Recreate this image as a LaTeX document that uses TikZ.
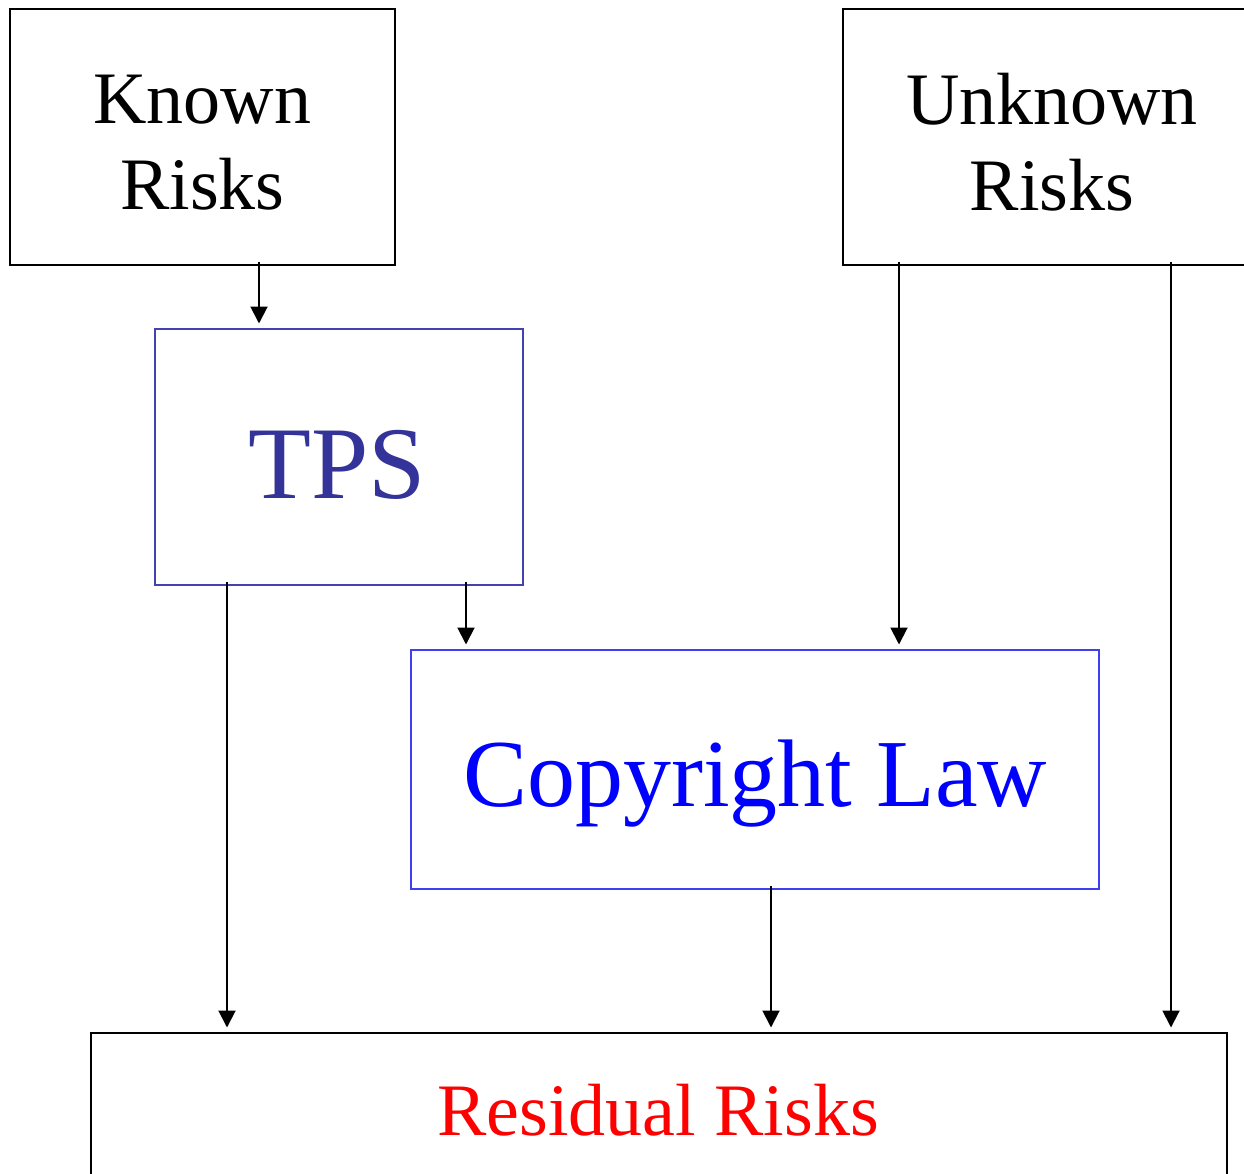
\documentclass[tikz,border=0pt]{standalone}
\usepackage{fontspec}
\setmainfont{Liberation Serif}
\usetikzlibrary{arrows.meta}
\definecolor{tpsblue}{HTML}{333399}
\definecolor{tpsframe}{HTML}{4343B0}
\definecolor{lawframe}{HTML}{3F3FF0}
\begin{document}
\begin{tikzpicture}[x=1pt,y=1pt,
  box/.style={draw, line width=2pt, inner sep=0pt},
  arr/.style={line width=2pt, -{Triangle[length=17pt,width=17pt]}, shorten >=0.5pt},
  bigtext/.style={font=\fontsize{74}{86}\selectfont, align=center, inner sep=0pt}]
\useasboundingbox (0,0) rectangle (1244,-1174);
\begin{scope}
\clip (0,0) rectangle (1244,-1174);
% source boxes
\node[box, minimum width=385pt, minimum height=256pt] (known) at (202.5,-137) {};
\node[box, minimum width=418pt, minimum height=256pt] (unknown) at (1052,-137) {};
% protection layers
\node[box, draw=tpsframe, minimum width=368pt, minimum height=256pt] (tps) at (339,-457) {};
\node[box, draw=lawframe, minimum width=688pt, minimum height=239pt] (law) at (755,-769.5) {};
% outcome
\node[box, minimum width=1136pt, minimum height=154pt] (resid) at (659,-1110) {};
\end{scope}
% box captions
\node[bigtext] (knowntxt) at ([yshift=-6pt]known.center) {Known\\Risks};
\node[bigtext] (unknowntxt) at ([yshift=-5pt]unknown.center) {Unknown\\Risks};
\node[inner sep=0pt, text=tpsblue, font=\fontsize{103}{120}\selectfont] (tpstxt) at ([xshift=-2pt,yshift=-8pt]tps.center) {TPS};
\node[inner sep=0pt, text=blue, font=\fontsize{96}{110}\selectfont] (lawtxt) at ([yshift=-14pt]law.center) {Copyright Law};
\node[bigtext, text=red] (residtxt) at ([xshift=-1pt]resid.center) {Residual Risks};
% connectors
\draw[arr] ([xshift=56.5pt,yshift=4pt]known.south) -- ([xshift=56.5pt,yshift=4pt]known.south |- tps.north);
\draw[arr] ([xshift=127pt,yshift=4pt]tps.south) -- ([xshift=127pt,yshift=4pt]tps.south |- law.north);
\draw[arr] ([xshift=-112pt,yshift=4pt]tps.south) -- ([xshift=-112pt,yshift=4pt]tps.south |- resid.north);
\draw[arr] ([xshift=-153pt,yshift=4pt]unknown.south) -- ([xshift=-153pt,yshift=4pt]unknown.south |- law.north);
\draw[arr] ([xshift=119pt,yshift=4pt]unknown.south) -- ([xshift=119pt,yshift=4pt]unknown.south |- resid.north);
\draw[arr] ([xshift=16pt,yshift=4pt]law.south) -- ([xshift=16pt,yshift=4pt]law.south |- resid.north);
\end{tikzpicture}
\end{document}
